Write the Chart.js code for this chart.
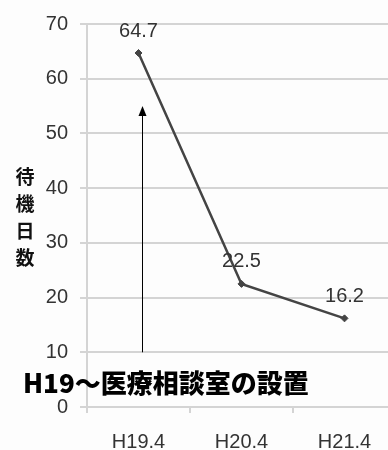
<!DOCTYPE html>
<html>
<head>
<meta charset="utf-8">
<script src="https://cdn.jsdelivr.net/npm/chart.js@4.4.0/dist/chart.umd.min.js"></script>
<style>
  html, body { margin: 0; padding: 0; background: #fdfdfd; }
  #wrap { width: 388px; height: 450px; overflow: hidden; position: relative; }
  canvas { display: block; }
</style>
</head>
<body>
<div id="wrap"><canvas id="c" width="401" height="450"></canvas></div>
<script>
// Waiting days per year
const categories = ['H19.4', 'H20.4', 'H21.4'];
const waitDays = [64.7, 22.5, 16.2];
const yTicks = [0, 10, 20, 30, 40, 50, 60, 70];
const yTitleChars = ['待', '機', '日', '数'];
const noteText = 'H19〜医療相談室の設置';
const arrowRange = [10, 55];   // arrow from / to (days)
const noteLevel = 4.3;         // vertical position of the note (days)

const LATIN = '"Liberation Sans", Arial, sans-serif';
const CJK = '"Noto Sans CJK JP", "Noto Sans CJK SC", sans-serif';

const valueLabels = {
  id: 'valueLabels',
  afterDatasetsDraw(chart) {
    const ctx = chart.ctx;
    const meta = chart.getDatasetMeta(0);
    ctx.save();
    ctx.font = '20px ' + LATIN;
    ctx.fillStyle = '#333';
    ctx.textAlign = 'center';
    ctx.textBaseline = 'middle';
    meta.data.forEach((pt, i) => {
      ctx.fillText(String(waitDays[i]), pt.x, pt.y - 22);
    });
    ctx.restore();
  }
};

const extras = {
  id: 'extras',
  afterDraw(chart) {
    const ctx = chart.ctx;
    const x = chart.scales.x, y = chart.scales.y;
    ctx.save();
    // vertical axis title, stacked characters
    ctx.font = 'bold 19px ' + CJK;
    ctx.fillStyle = '#111';
    ctx.textAlign = 'center';
    ctx.textBaseline = 'middle';
    yTitleChars.forEach((ch, i) => ctx.fillText(ch, 25, 177 + i * 27));

    // arrow
    const ax = Math.round(x.getPixelForValue(0)) + 3.5;
    const y0 = y.getPixelForValue(arrowRange[0]);
    const y1 = y.getPixelForValue(arrowRange[1]);
    ctx.strokeStyle = '#000';
    ctx.lineWidth = 1;
    ctx.beginPath();
    ctx.moveTo(ax, y0);
    ctx.lineTo(ax, y1 + 6);
    ctx.stroke();
    ctx.fillStyle = '#000';
    ctx.beginPath();
    ctx.moveTo(ax, y1);
    ctx.lineTo(ax - 4, y1 + 10);
    ctx.lineTo(ax + 4, y1 + 10);
    ctx.closePath();
    ctx.fill();

    // note
    ctx.font = '900 26px ' + CJK;
    ctx.textAlign = 'left';
    ctx.fillStyle = '#000';
    ctx.fillText(noteText, 23, y.getPixelForValue(noteLevel));
    ctx.restore();
  }
};

new Chart(document.getElementById('c'), {
  type: 'line',
  data: {
    labels: categories,
    datasets: [{
      data: waitDays,
      borderColor: '#444',
      backgroundColor: '#444',
      borderWidth: 2.5,
      pointStyle: 'rectRot',
      pointRadius: 3.5,
      pointBorderWidth: 1,
      tension: 0
    }]
  },
  options: {
    responsive: false,
    animation: false,
    layout: { padding: { top: 22, left: 0, right: 0, bottom: 0 } },
    plugins: { legend: { display: false }, tooltip: { enabled: false } },
    scales: {
      x: {
        offset: true,
        grid: { offset: true, drawOnChartArea: false, drawTicks: true, tickLength: 6, color: '#d4d4d4', lineWidth: 2 },
        border: { display: false },
        ticks: { font: { size: 20, family: LATIN }, color: '#333', padding: 17, maxRotation: 0 },
        afterFit(s) { s.height = 43; }
      },
      y: {
        min: 0, max: 70,
        afterBuildTicks(s) { s.ticks = yTicks.map(v => ({ value: v })); },
        grid: { color: '#d4d4d4', lineWidth: 2, tickLength: 7 },
        border: { color: '#d4d4d4', width: 2 },
        ticks: { font: { size: 20, family: LATIN }, color: '#333', padding: 12 },
        afterFit(s) { s.width = 87; }
      }
    }
  },
  plugins: [valueLabels, extras]
});
</script>
</body>
</html>
